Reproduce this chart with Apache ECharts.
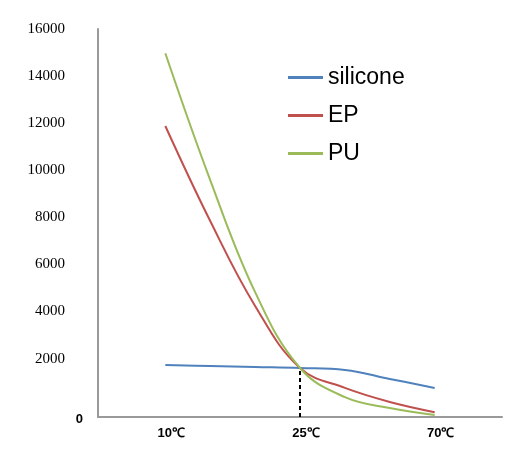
<!DOCTYPE html>
<html>
<head>
<meta charset="utf-8">
<script src="https://cdn.jsdelivr.net/npm/echarts@6/dist/echarts.min.js"></script>
<style>
  html, body { margin: 0; padding: 0; background: #fff; }
  #chart { width: 532px; height: 452px; }
</style>
</head>
<body>
<div id="chart"></div>
<script>
// slots along the x axis, only three of them carry a label
const categories = ['', '10℃', '', '', '25℃', '', '', '70℃', '']

const silicone = [null, 2140, 2100, 2060, 2020, 1940, 1570, 1200, null]
const ep = [null, 12000, 8080, 4580, 2020, 1200, 620, 200, null]
const pu = [null, 15000, 9770, 5150, 2020, 820, 370, 80, null]

const yTicks = [0, 2000, 4000, 6000, 8000, 10000, 12000, 14000, 16000]
const crossAt = 4 //index of 25℃, where the dashed line drops

const colors = ['#4f81bd', '#c0504d', '#9bbb59']

//the labels of the original sit a bit higher than the scale, lower ones more
//and the 0 is bold and pushed closer to the axis
const rich = {
    zero: { fontFamily: 'Liberation Sans', fontWeight: 'bold', fontSize: 13, color: '#000', padding: [4, 0, 0, 0] }
}
yTicks.forEach(v => {
    if (v === 0) return
    rich['t' + v] = {
        fontFamily: 'Liberation Serif', fontSize: 15, color: '#000',
        padding: [0, 18, Math.round((16000 - v) / 16000 * 22), 0]
    }
})

const chart = echarts.init(document.getElementById('chart'))

chart.setOption({
    animation: false,
    backgroundColor: '#fff',
    color: colors,
    grid: { left: 98, right: 30, top: 29, bottom: 35, containLabel: false },
    legend: {
        orient: 'vertical',
        left: 288,
        top: 66,
        padding: 0,
        itemGap: 15,
        itemWidth: 35,
        itemHeight: 3,
        icon: 'rect',
        textStyle: { fontFamily: 'Liberation Sans', fontSize: 23, color: '#000' },
        data: ['silicone', 'EP', 'PU']
    },
    xAxis: {
        type: 'category',
        data: categories,
        boundaryGap: true,
        axisLine: { lineStyle: { color: '#999', width: 2 } },
        axisTick: { show: false },
        axisLabel: {
            interval: 0,
            margin: 10,
            color: '#000',
            fontFamily: 'Liberation Sans',
            fontWeight: 'bold',
            fontSize: 13,
            padding: [0, 0, 0, 12]
        }
    },
    yAxis: {
        type: 'value',
        min: 0,
        max: 16000,
        interval: 2000,
        splitLine: { show: false },
        axisLine: { show: true, lineStyle: { color: '#999', width: 2 } },
        axisTick: { show: false },
        axisLabel: {
            margin: 15,
            formatter: v => v === 0 ? '{zero|0}' : '{t' + v + '|' + v + '}',
            rich: rich
        }
    },
    series: [
        {
            name: 'silicone',
            type: 'line',
            data: silicone,
            smooth: 0.4,
            symbol: 'none',
            lineStyle: { width: 2 },
            markLine: {
                silent: true,
                symbol: 'none',
                label: { show: false },
                lineStyle: { color: '#000', type: [4, 3], width: 2 },
                data: [[{ coord: [crossAt, 0] }, { coord: [crossAt, silicone[crossAt]] }]]
            }
        },
        {
            name: 'EP',
            type: 'line',
            data: ep,
            smooth: 0.4,
            symbol: 'none',
            lineStyle: { width: 2 }
        },
        {
            name: 'PU',
            type: 'line',
            data: pu,
            smooth: 0.4,
            symbol: 'none',
            lineStyle: { width: 2 }
        }
    ]
})

window.addEventListener('resize', () => chart.resize())
</script>
</body>
</html>
